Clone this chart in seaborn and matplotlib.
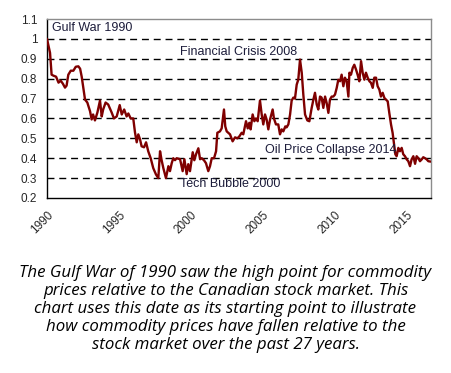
import matplotlib
matplotlib.use("Agg")
import matplotlib.pyplot as plt
import matplotlib.transforms as mtransforms
import seaborn as sns
import pandas as pd
import numpy as np

# values (years after Jan 1990, ratio)
years_offset = [
    0.0, 0.21, 0.32, 0.45, 0.63, 0.80, 0.95, 1.10, 1.25, 1.36, 1.48, 1.65, 1.83,
    2.00, 2.18, 2.30, 2.41, 2.64, 2.80, 2.99, 3.10, 3.20, 3.33, 3.50, 3.68, 3.80,
    3.90, 4.07, 4.25, 4.49, 4.65, 4.84, 5.05, 5.19, 5.36, 5.53, 5.65, 5.81, 5.99,
    6.11, 6.23, 6.34, 6.46, 6.57, 6.74, 6.88, 7.03, 7.20, 7.38, 7.57, 7.73, 7.85,
    7.96, 8.08, 8.26, 8.43, 8.54, 8.66, 8.77, 8.89, 9.00, 9.24, 9.42, 9.54, 9.70,
    9.81, 9.93, 10.12, 10.23, 10.35, 10.51, 10.63, 10.74, 10.90, 11.04, 11.20,
    11.32, 11.44, 11.60, 11.74, 11.83, 12.01, 12.13, 12.29, 12.38, 12.48, 12.59,
    12.71, 12.89, 13.06, 13.22, 13.36, 13.52, 13.63, 13.82, 13.94, 14.05, 14.14,
    14.28, 14.40, 14.51, 14.63, 14.79, 14.91, 15.02, 15.14, 15.25, 15.37, 15.49,
    15.67, 15.76, 15.90, 16.06, 16.18, 16.30, 16.41, 16.55, 16.64, 16.76, 16.88,
    16.99, 17.11, 17.22, 17.34, 17.45, 17.57, 17.69, 17.80, 17.92, 18.08, 18.22,
    18.38, 18.50, 18.61, 18.73, 18.84, 18.96, 19.07, 19.19, 19.31, 19.42, 19.54,
    19.65, 19.77, 19.88, 20.00, 20.12, 20.23, 20.35, 20.46, 20.58, 20.69, 20.81,
    20.93, 21.00, 21.11, 21.23, 21.34, 21.46, 21.57, 21.69, 21.81, 21.92, 22.04,
    22.15, 22.27, 22.39, 22.50, 22.62, 22.73, 22.85, 22.96, 23.08, 23.19, 23.31,
    23.43, 23.54, 23.66, 23.77, 23.89, 24.00, 24.10, 24.19, 24.28, 24.40, 24.51,
    24.63, 24.74, 24.86, 24.98, 25.09, 25.21, 25.32, 25.44, 25.56, 25.67, 25.79,
    25.90, 26.02, 26.13, 26.25, 26.37, 26.48, 26.64,
]
ratio = [
    1.00, 0.93, 0.82, 0.815, 0.81, 0.78, 0.79, 0.775, 0.755, 0.765, 0.82, 0.84, 0.84,
    0.86, 0.862, 0.85, 0.81, 0.695, 0.68, 0.636, 0.595, 0.62, 0.59, 0.63, 0.69, 0.61,
    0.645, 0.68, 0.67, 0.63, 0.60, 0.61, 0.667, 0.62, 0.645, 0.61, 0.625, 0.60, 0.60,
    0.53, 0.48, 0.52, 0.495, 0.46, 0.455, 0.48, 0.435, 0.40, 0.35, 0.318, 0.30, 0.435,
    0.39, 0.35, 0.30, 0.36, 0.335, 0.375, 0.40, 0.39, 0.40, 0.395, 0.335, 0.395, 0.32,
    0.37, 0.335, 0.43, 0.39, 0.42, 0.45, 0.395, 0.40, 0.39, 0.375, 0.335,
    0.36, 0.40, 0.40, 0.435, 0.528, 0.535, 0.55, 0.645, 0.56, 0.535, 0.528,
    0.52, 0.485, 0.505, 0.50, 0.51, 0.528, 0.52, 0.586, 0.55, 0.578, 0.545,
    0.62, 0.586, 0.60, 0.586, 0.69, 0.62, 0.57, 0.62, 0.595, 0.545, 0.595,
    0.645, 0.60, 0.57, 0.57, 0.52, 0.545, 0.535, 0.56, 0.555, 0.57, 0.62,
    0.69, 0.705, 0.70, 0.77, 0.795, 0.896, 0.83, 0.72, 0.62, 0.59, 0.586,
    0.653, 0.695, 0.729, 0.67, 0.645, 0.71, 0.705, 0.653, 0.71, 0.678, 0.628,
    0.695, 0.71, 0.71, 0.72, 0.754, 0.795, 0.787, 0.82, 0.762, 0.805, 0.787,
    0.71, 0.83, 0.82, 0.854, 0.87, 0.846, 0.82, 0.787, 0.888, 0.83, 0.795,
    0.83, 0.805, 0.787, 0.779, 0.754, 0.805, 0.805, 0.762, 0.745, 0.71, 0.729,
    0.703, 0.695, 0.686, 0.628, 0.57, 0.528, 0.469, 0.42, 0.41, 0.452, 0.435,
    0.452, 0.42, 0.41, 0.394, 0.385, 0.36, 0.394, 0.41, 0.372, 0.41, 0.40,
    0.385, 0.394, 0.405, 0.40, 0.394, 0.385, 0.383,
]
year_labels = ["1990", "1995", "2000", "2005", "2010", "2015"]
y_ticks = [0.2, 0.3, 0.4, 0.5, 0.6, 0.7, 0.8, 0.9, 1.0, 1.1]
y_tick_labels = ["0.2", "0.3", "0.4", "0.5", "0.6", "0.7", "0.8", "0.9", "1", "1.1"]
events = ["Gulf War 1990", "Financial Crisis 2008", "Oil Price Collapse 2014", "Tech Bubble 2000"]
event_x = [1990.35, 1999.25, 2005.15, 1999.25]
event_y = [1.055, 0.935, 0.44, 0.27]
caption = ("The Gulf War of 1990 saw the high point for commodity\n"
           "prices relative to the Canadian stock market. This\n"
           "chart uses this date as its starting point to illustrate\n"
           "how commodity prices have fallen relative to the\n"
           "stock market over the past 27 years.")

df = pd.DataFrame({"year": 1990 + np.array(years_offset), "ratio": ratio})

sns.set_style("white")
plt.rcParams["font.family"] = ["Liberation Sans", "DejaVu Sans"]

fig = plt.figure(figsize=(4.51, 3.73), dpi=100)
ax = fig.add_axes([47 / 451, 1 - 198 / 373, 384 / 451, 179 / 373])

# dashed gridlines
for v in y_ticks[1:-1]:
    ax.axhline(v, color="black", lw=1, ls=(0, (5, 3.5)), zorder=1)

sns.lineplot(data=df, x="year", y="ratio", ax=ax, color="#7f0000", lw=1.7, zorder=3)

ax.set_xlim(1990, 1990 + 32 * 10 / 12)
ax.set_ylim(0.2, 1.1)
tick_pos = [1990 + i * 10 / 12 for i in range(33)]
tick_lab = [""] * 33
for i, lab in enumerate(year_labels):
    tick_lab[i * 6] = lab
ax.set_xticks(tick_pos)
ax.set_xticklabels(tick_lab, rotation=45, ha="right", va="top",
                   rotation_mode="anchor", fontsize=8.5)
shift = mtransforms.ScaledTranslation(-6 / 100, 3 / 100, fig.dpi_scale_trans)
for lab in ax.get_xticklabels():
    lab.set_transform(lab.get_transform() + shift)
ax.tick_params(axis="x", direction="inout", length=6, width=1, color="black", pad=5)
ax.set_yticks(y_ticks)
ax.set_yticklabels(y_tick_labels, fontsize=8.5)
ax.tick_params(axis="y", direction="out", length=4, width=1, color="black", pad=3)
ax.set_xlabel("")
ax.set_ylabel("")

for side in ["left", "bottom"]:
    ax.spines[side].set_color("black")
    ax.spines[side].set_linewidth(1)
for side in ["top", "right"]:
    ax.spines[side].set_color("#8c8c8c")
    ax.spines[side].set_linewidth(1)

for name, x, y in zip(events, event_x, event_y):
    ax.text(x, y, name, fontsize=9, color="#1c1c3a", ha="left", va="center", zorder=4)

fig.text(0.5, 1 - 309 / 373, caption, ha="center", va="center", fontsize=12.2,
         style="italic", linespacing=1.17, color="black", family=["Open Sans", "DejaVu Sans"])

plt.savefig("out.png", dpi=100)
